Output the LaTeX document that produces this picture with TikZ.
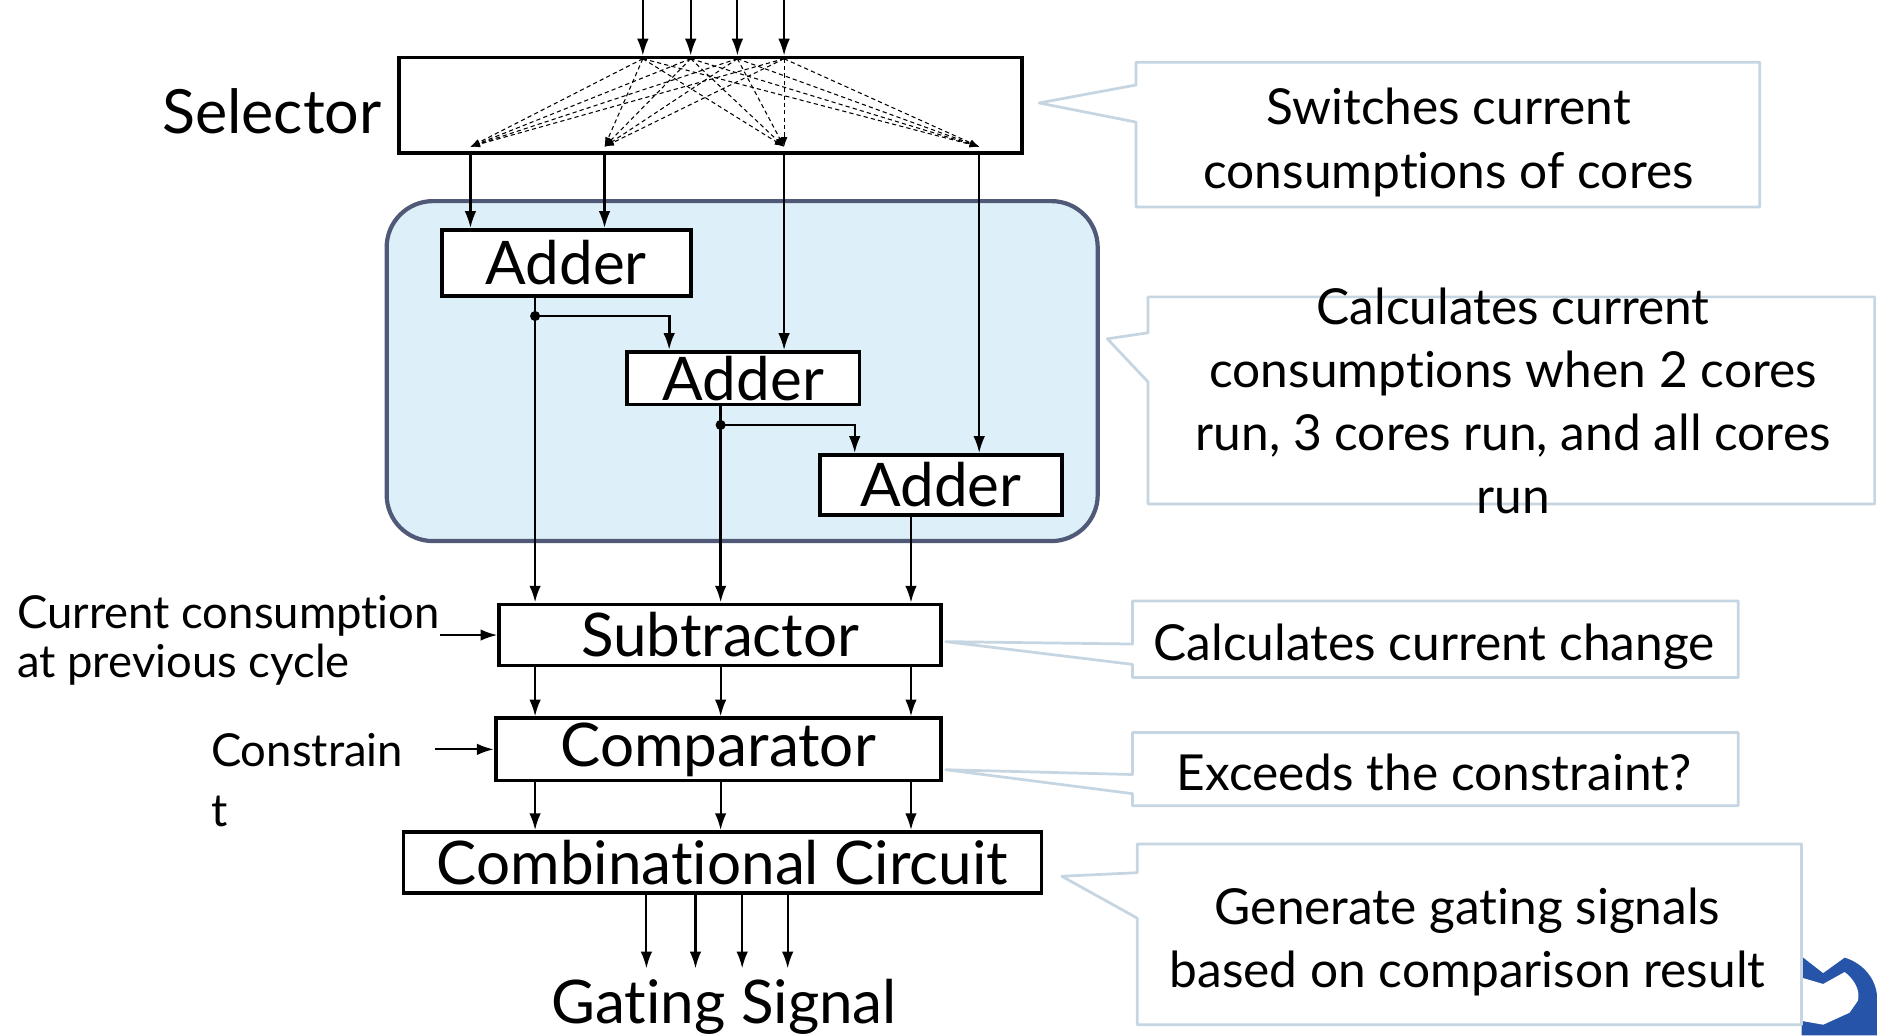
\documentclass[tikz,border=0pt]{standalone}
\usepackage{fontspec}
\setmainfont{Lato}[Ligatures=NoCommon]
\usetikzlibrary{arrows.meta,calc}
\definecolor{notec}{RGB}{197,213,226}
\definecolor{grpfill}{RGB}{221,239,248}
\definecolor{grpline}{RGB}{80,90,120}
\definecolor{logob}{RGB}{38,84,168}

\begin{document}
\begin{tikzpicture}[x=.02cm,y=-.02cm,
  blk/.style={draw,line width=1.8pt,fill=white,inner sep=0pt,font=\fontsize{28.6}{34}\selectfont},
  arr/.style={line width=1pt,-{Latex[length=8pt,width=5.5pt]}},
  sw/.style={line width=.5pt,dash pattern=on 2pt off 1.5pt,-{Latex[length=4.5pt,width=3.2pt]}},
  note/.style={draw=notec,line width=1.3pt,fill=white,line join=round},
  ntxt/.style={align=center,inner sep=0pt,font=\fontsize{23.6}{30}\selectfont},
  side/.style={align=left,inner sep=0pt,anchor=west,font=\fontsize{21.6}{23.3}\selectfont}]
\useasboundingbox (0,0) rectangle (1568,865);
\foreach \n/\x in {i1/537,i2/577,i3/616,i4/655,o1/393,o2/505,o3/655,o4/818,c1/447,c2/602,c3/761,a2/559,a3/714}
  \coordinate (\n) at (\x,0);
\foreach \n/\x in {g1/540,g2/581,g3/620,g4/658} \coordinate (\n) at (\x,809);
\coordinate (j1) at (447,264); \coordinate (j2) at (602,355);

% selector
\node[blk,minimum width=10.42cm,minimum height=1.6cm] (sel) at (593.5,88) {};
\node[font=\fontsize{29}{34}\selectfont,inner sep=0pt,anchor=east] (sellbl) at (319,93) {Selector};
\foreach \i in {1,...,4} \draw[arr] (i\i) -- (sel.north -| i\i);
\foreach \i in {1,...,4} \foreach \o in {1,...,4}
  \draw[sw] ([yshift=-1.5pt]sel.north -| i\i) -- ([yshift=4pt]sel.south -| o\o);

% adder chain
\draw[grpline,fill=grpfill,line width=2pt,rounded corners=22pt] (323,168) rectangle (917,452);
\node[blk,minimum width=4.16cm,minimum height=1.1cm] (ad1) at (473,219.5) {Adder};
\node[blk,minimum width=3.88cm,minimum height=.88cm] (ad2) at (621,316) {Adder};
\node[blk,minimum width=4.04cm,minimum height=1cm] (ad3) at (786,405) {Adder};
\draw[arr] (sel.south -| o1) -- (ad1.north -| o1); \draw[arr] (sel.south -| o2) -- (ad1.north -| o2);
\draw[arr] (sel.south -| o3) -- (ad2.north -| o3); \draw[arr] (sel.south -| o4) -- (ad3.north -| o4);
\fill (j1) circle (2.4pt); \fill (j2) circle (2.4pt);
\draw[arr,line width=1.3pt] (j1) -| (ad2.north -| a2); \draw[arr] (j2) -| (ad3.north -| a3);

% subtractor, comparator, combinational circuit
\node[blk,minimum width=7.38cm,minimum height=1.02cm] (sub) at (601.5,530.5) {Subtractor};
\node[blk,minimum width=7.44cm,minimum height=1.04cm] (comp) at (600,626) {Comparator};
\node[blk,minimum width=10.66cm,minimum height=1.02cm] (comb) at (603.5,720.5) {Combinational Circuit};
\draw[arr,line width=1.3pt] (ad1.south -| c1) -- (sub.north -| c1);
\draw[arr,line width=1.3pt] (ad2.south -| c2) -- (sub.north -| c2);
\draw[arr] (ad3.south -| c3) -- (sub.north -| c3);
\foreach \c in {c1,c2,c3} {\draw[arr] (sub.south -| \c) -- (comp.north -| \c); \draw[arr] (comp.south -| \c) -- (comb.north -| \c);}
\foreach \g in {g1,g2,g3,g4} \draw[arr] (comb.south -| \g) -- (\g);
\node[font=\fontsize{28.6}{34}\selectfont,inner sep=0pt] (gate) at (605,841) {Gating Signal};
\node[side] (prev) at (14,535) {Current consumption\\at previous cycle};
\draw[arr] (prev.east |- sub.west) -- (sub.west);
\node[side,font=\fontsize{21.6}{28.5}\selectfont] (cons) at (176,652) {Constrain\\t};
\draw[arr] ([xshift=.52cm]cons.east |- comp.west) -- (comp.west);

% logo piece
\fill[logob] (1505,799) -- (1523,813) -- (1541,800) .. controls (1557,805) and (1567,818) .. (1568,832) -- (1568,865) -- (1505,865) -- cycle;
\fill[white] (1506,817) -- (1523,822) -- (1541,812) .. controls (1550,819) and (1554,828) .. (1552,836) -- (1545,846) -- (1523,856) -- (1506,853) -- cycle;

% callouts
\draw[note] (868,86) -- (949,71) |- (1470,52) |- (949,173) -- (949,102) -- cycle;
\node[ntxt] (n1) at (1210,119) {Switches current\\consumptions of cores};
\draw[note] (925,283) -- (959,278) |- (1566,248) |- (959,421) -- (959,319) -- cycle;
\node[ntxt] (n2) at (1264,335) {Calculates current\\consumptions when 2 cores\\run, 3 cores run, and all cores\\run};
\draw[note] (790,536) -- (946,538) |- (1452,502) |- (946,566) -- (946,555) -- cycle;
\node[ntxt] (n3) at (1198,540) {Calculates current change};
\draw[note] (790,643) -- (946,647) |- (1452,612) |- (946,673) -- (946,663) -- cycle;
\node[ntxt] (n4) at (1198,645) {Exceeds the constraint?};
\draw[note] (887,732) -- (950,729) |- (1505,705) |- (950,856) -- (950,767) -- cycle;
\node[ntxt] (n5) at (1226,787) {Generate gating signals\\based on comparison result};
\end{tikzpicture}
\end{document}
